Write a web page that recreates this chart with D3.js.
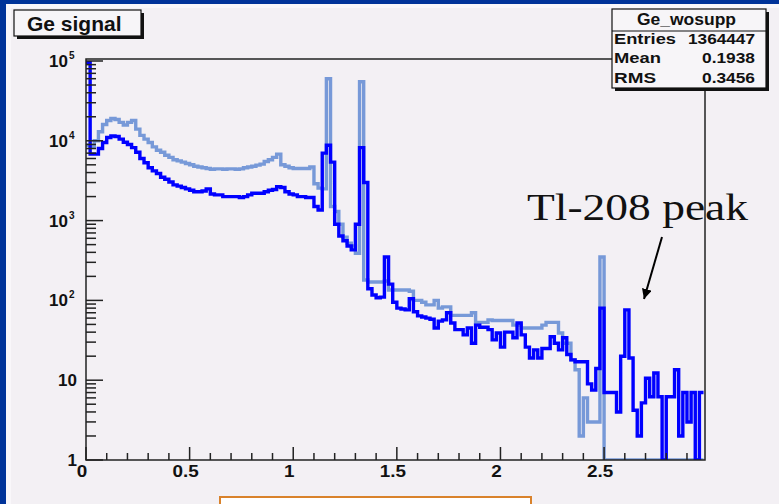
<!DOCTYPE html>
<html>
<head>
<meta charset="utf-8">
<script src="https://cdn.jsdelivr.net/npm/d3@7"></script>
<style>
  html, body { margin: 0; padding: 0; background: #003399; }
  svg { display: block; }
</style>
</head>
<body>
<svg id="chart" width="779" height="504"></svg>
<script>
// Ge detector energy spectrum (MeV), bins of 0.02 MeV starting at 0
const binWidth = 0.02;

// Ge_wosupp: spectrum without suppression (light blue)
const geWoSupp = [
  8800, 8500, 10000, 13000, 16000, 18000, 19000, 18500, 17000, 15800,
  17000, 18000, 14000, 11700, 10500, 9500, 8400, 7600, 7200, 6600,
  6200, 5800, 5600, 5400, 5200, 5000, 4800, 4700, 4600, 4500,
  4400, 4450, 4450, 4400, 4450, 4450, 4400, 4450, 4600, 4700,
  4800, 4950, 5100, 5500, 5800, 6200, 6800, 5000, 4800, 4600,
  4500, 4500, 4500, 4500, 4700, 2900, 2550, 2500, 60000, 1500,
  1300, 900, 620, 520, 480, 390, 55000, 180, 170, 170,
  170, 170, 175, 135, 135, 135, 135, 135, 130, 100,
  100, 95, 88, 88, 100, 80, 83, 83, 65, 65,
  65, 65, 65, 70, 53, 53, 53, 57, 56, 56,
  56, 56, 56, 49, 49, 45, 45, 45, 45, 45,
  49, 53, 53, 53, 39, 29, 29, 18, 13.5, 2,
  6, 3, 3, 3, 350, 0, 0, 0, 0, 0,
  0, 0, 0, 0, 0, 0, 0, 0, 0, 0,
  0, 0, 0, 0, 0, 0, 0, 0, 0
];

// Spectrum with suppression (dark blue)
const geSupp = [
  95000, 6800, 6800, 8000, 9500, 11000, 11500, 11300, 10500, 9600,
  9000, 8200, 7200, 6000, 5300, 4600, 4200, 3900, 3500, 3300,
  3050, 2800, 2700, 2600, 2500, 2400, 2300, 2300, 2350, 2500,
  2150, 2100, 2100, 2000, 2000, 2000, 2000, 1950, 2000, 2100,
  2200, 2200, 2200, 2300, 2400, 2450, 2650, 2600, 2300, 2150,
  2100, 2000, 2000, 1950, 1950, 1500, 1360, 7000, 8800, 5400,
  900, 640, 560, 480, 430, 900, 8200, 3000, 140, 117,
  108, 110, 350, 160, 95, 80, 78, 76, 105, 72,
  64, 62, 60, 58, 45, 55, 57, 70, 52, 43,
  43, 37, 45, 29, 49, 46, 46, 43, 32, 39,
  26, 40, 40, 34, 52, 37, 26, 19, 24, 19,
  25, 25, 35, 29, 24, 34, 21, 18, 17, 17,
  17, 9, 7.5, 14, 80, 7, 7, 7, 4, 20,
  76, 19, 4.2, 2, 5.2, 10.6, 6.2, 12.3, 6.2, 0,
  6.2, 6.2, 13.5, 2, 7, 3, 7, 0, 7
];

const xMajorTicks = [0, 0.5, 1, 1.5, 2, 2.5];
const xTickLabels = ["0", "0.5", "1", "1.5", "2", "2.5"];
const yMajorTicks = [1, 10, 100, 1000, 10000, 100000];
const yTickBase = ["1", "10", "10", "10", "10", "10"];
const yTickExp = ["", "", "2", "3", "4", "5"];

const statsTitle = "Ge_wosupp";
const statsNames = ["Entries", "Mean", "RMS"];
const statsValues = ["1364447", "0.1938", "0.3456"];

const histTitle = "Ge signal";
const noteText = "Tl-208 peak";

const svg = d3.select("#chart");
const W = 779, H = 504;
const frame = { left: 86, right: 705, top: 59, bottom: 460 };
const sans = "Liberation Sans, Arial, sans-serif";

// slide panel
svg.append("rect").attr("x", 6).attr("y", 4).attr("width", W - 6).attr("height", H - 4).attr("fill", "#f9f7fa");
svg.append("rect").attr("x", 11).attr("y", 8).attr("width", W - 11).attr("height", H - 8).attr("fill", "#f3f0f4");

const x = d3.scaleLinear().domain([0, 2.987]).range([frame.left, frame.right]);
const y = d3.scaleLog().domain([1, Math.pow(10, 5.025)]).range([frame.bottom, frame.top]).clamp(true);
const yPos = v => (v > 0 ? y(v) : frame.bottom);

const defs = svg.append("defs");
defs.append("clipPath").attr("id", "frameClip")
  .append("rect").attr("x", frame.left).attr("y", frame.top - 2)
  .attr("width", frame.right - frame.left).attr("height", frame.bottom - frame.top + 2);

// histogram outline as a step line through bin edges
function stepPoints(vals) {
  const pts = [];
  vals.forEach((v, i) => {
    pts.push([i * binWidth, v]);
    pts.push([(i + 1) * binWidth, v]);
  });
  return pts;
}
const line = d3.line().x(d => x(d[0])).y(d => yPos(d[1]));

const plot = svg.append("g").attr("clip-path", "url(#frameClip)");
plot.append("path").datum(stepPoints(geWoSupp)).attr("d", line)
  .attr("fill", "none").attr("stroke", "#7799d8").attr("stroke-width", 3.4).attr("stroke-linejoin", "miter");
plot.append("path").datum(stepPoints(geSupp)).attr("d", line)
  .attr("fill", "none").attr("stroke", "#0000ff").attr("stroke-width", 3.4).attr("stroke-linejoin", "miter");

// frame
svg.append("rect").attr("x", frame.left).attr("y", frame.top)
  .attr("width", frame.right - frame.left).attr("height", frame.bottom - frame.top)
  .attr("fill", "none").attr("stroke", "#222").attr("stroke-width", 1.5);

const axisColor = "#222";
// x axis ticks (inward)
const xMinor = d3.range(1, 30).map(i => i / 10).filter(v => v < 2.987 && Math.abs(v * 2 - Math.round(v * 2)) > 1e-6);
svg.append("g").selectAll("line").data(xMinor).join("line")
  .attr("x1", d => x(d)).attr("x2", d => x(d)).attr("y1", frame.bottom).attr("y2", frame.bottom - 7)
  .attr("stroke", axisColor).attr("stroke-width", 1.5);
svg.append("g").selectAll("line").data(xMajorTicks).join("line")
  .attr("x1", d => x(d)).attr("x2", d => x(d)).attr("y1", frame.bottom).attr("y2", frame.bottom - 13)
  .attr("stroke", axisColor).attr("stroke-width", 1.5);
// labels are slightly wide in this style
svg.append("g").selectAll("text").data(xMajorTicks).join("text")
  .attr("transform", d => `translate(${x(d) - 4},477) scale(1.18,1)`)
  .attr("text-anchor", "middle")
  .attr("font-family", sans).attr("font-weight", "bold").attr("font-size", 16)
  .attr("fill", "#111")
  .text((d, i) => xTickLabels[i]);

// y axis ticks (inward)
const yMinor = [];
[1, 10, 100, 1000, 10000].forEach(b => { for (let k = 2; k <= 9; k++) yMinor.push(b * k); });
svg.append("g").selectAll("line").data(yMinor).join("line")
  .attr("x1", frame.left).attr("x2", frame.left + 10).attr("y1", d => y(d)).attr("y2", d => y(d))
  .attr("stroke", axisColor).attr("stroke-width", 1.5);
svg.append("g").selectAll("line").data(yMajorTicks).join("line")
  .attr("x1", frame.left).attr("x2", frame.left + 17).attr("y1", d => y(d)).attr("y2", d => y(d))
  .attr("stroke", axisColor).attr("stroke-width", 1.5);

svg.append("g").selectAll("text").data(yMajorTicks).join("text")
  .attr("x", (d, i) => (yTickExp[i] ? 68 : 77))
  .attr("y", d => y(d) + 6)
  .attr("text-anchor", "end")
  .attr("font-family", sans).attr("font-weight", "bold").attr("font-size", 17)
  .attr("fill", "#111")
  .text((d, i) => yTickBase[i]);
svg.append("g").selectAll("text").data(yMajorTicks.filter((d, i) => yTickExp[i])).join("text")
  .attr("x", 69).attr("y", d => y(d) - 2)
  .attr("font-family", sans).attr("font-weight", "bold").attr("font-size", 10)
  .attr("fill", "#111")
  .text(d => yTickExp[yMajorTicks.indexOf(d)]);

// histogram title box
const tb = { x: 14, y: 10, w: 127, h: 26 };
svg.append("rect").attr("x", tb.x + 3).attr("y", tb.y + 3).attr("width", tb.w).attr("height", tb.h).attr("fill", "#111");
svg.append("rect").attr("x", tb.x).attr("y", tb.y).attr("width", tb.w).attr("height", tb.h)
  .attr("fill", "#f7f5f8").attr("stroke", "#111").attr("stroke-width", 1.2);
svg.append("text").attr("x", 27).attr("y", 31)
  .attr("font-family", sans).attr("font-weight", "bold").attr("font-size", 21)
  .attr("fill", "#111").text(histTitle);

// statistics box
const sb = { x: 612, y: 9, w: 154, h: 79 };
svg.append("rect").attr("x", sb.x + 3).attr("y", sb.y + 3).attr("width", sb.w).attr("height", sb.h).attr("fill", "#111");
svg.append("rect").attr("x", sb.x).attr("y", sb.y).attr("width", sb.w).attr("height", sb.h)
  .attr("fill", "#f7f5f8").attr("stroke", "#111").attr("stroke-width", 1.2);
svg.append("line").attr("x1", sb.x).attr("x2", sb.x + sb.w).attr("y1", 31).attr("y2", 31)
  .attr("stroke", "#111").attr("stroke-width", 1.2);
svg.append("text").attr("x", 637).attr("y", 25)
  .attr("font-family", sans).attr("font-weight", "bold").attr("font-size", 16)
  .attr("textLength", 99).attr("lengthAdjust", "spacingAndGlyphs")
  .attr("fill", "#111").text(statsTitle);
const rowsY = [44, 63, 83];
const nameWidths = [62, 47, 42];
const valueWidths = [67, 53, 53];
statsNames.forEach((n, i) => {
  svg.append("text").attr("x", 614).attr("y", rowsY[i])
    .attr("font-family", sans).attr("font-weight", "bold").attr("font-size", 15)
    .attr("textLength", nameWidths[i]).attr("lengthAdjust", "spacingAndGlyphs")
    .attr("fill", "#111").text(n);
  svg.append("text").attr("x", 755 - valueWidths[i]).attr("y", rowsY[i])
    .attr("font-family", sans).attr("font-weight", "bold").attr("font-size", 15)
    .attr("textLength", valueWidths[i]).attr("lengthAdjust", "spacingAndGlyphs")
    .attr("fill", "#111").text(statsValues[i]);
});

// annotation with arrow
defs.append("marker").attr("id", "arrowHead")
  .attr("viewBox", "0 0 10 10").attr("refX", 10).attr("refY", 5)
  .attr("markerWidth", 5).attr("markerHeight", 5).attr("orient", "auto")
  .append("path").attr("d", "M0,0 L10,5 L0,10 z").attr("fill", "#000");
svg.append("text").attr("x", 527).attr("y", 220)
  .attr("font-family", "Liberation Serif, Times New Roman, serif").attr("font-size", 38)
  .attr("fill", "#111").attr("textLength", 221).attr("lengthAdjust", "spacingAndGlyphs")
  .text(noteText);
svg.append("line").attr("x1", 662).attr("y1", 237).attr("x2", 644).attr("y2", 299)
  .attr("stroke", "#000").attr("stroke-width", 2).attr("marker-end", "url(#arrowHead)");

// caption box at the bottom edge
svg.append("rect").attr("x", 220).attr("y", 497).attr("width", 311).attr("height", 20)
  .attr("fill", "#ffffff").attr("stroke", "#d9822b").attr("stroke-width", 2);
</script>
</body>
</html>
